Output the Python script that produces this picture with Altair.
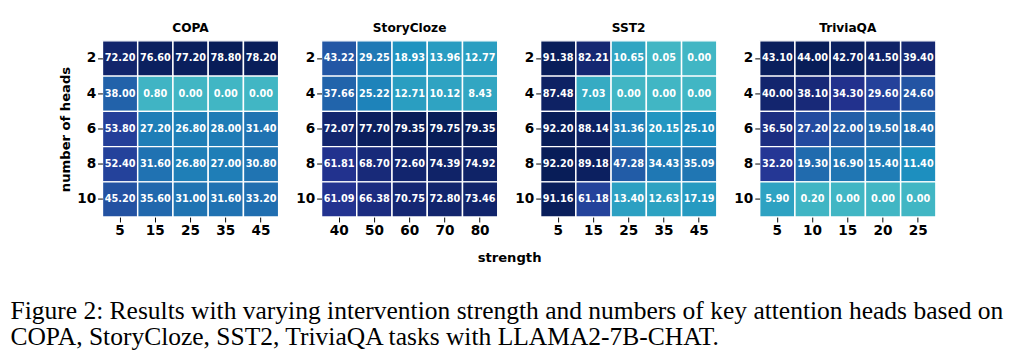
import altair as alt
import pandas as pd

heads = [2, 4, 6, 8, 10]

copa_strength = [5, 15, 25, 35, 45]
copa = [
    [72.20, 76.60, 77.20, 78.80, 78.20],
    [38.00, 0.80, 0.00, 0.00, 0.00],
    [53.80, 27.20, 26.80, 28.00, 31.40],
    [52.40, 31.60, 26.80, 27.00, 30.80],
    [45.20, 35.60, 31.00, 31.60, 33.20],
]

story_strength = [40, 50, 60, 70, 80]
story = [
    [43.22, 29.25, 18.93, 13.96, 12.77],
    [37.66, 25.22, 12.71, 10.12, 8.43],
    [72.07, 77.70, 79.35, 79.75, 79.35],
    [61.81, 68.70, 72.60, 74.39, 74.92],
    [61.09, 66.38, 70.75, 72.80, 73.46],
]

sst2_strength = [5, 15, 25, 35, 45]
sst2 = [
    [91.38, 82.21, 10.65, 0.05, 0.00],
    [87.48, 7.03, 0.00, 0.00, 0.00],
    [92.20, 88.14, 31.36, 20.15, 25.10],
    [92.20, 89.18, 47.28, 34.43, 35.09],
    [91.16, 61.18, 13.40, 12.63, 17.19],
]

trivia_strength = [5, 10, 15, 20, 25]
trivia = [
    [43.10, 44.00, 42.70, 41.50, 39.40],
    [40.00, 38.10, 34.30, 29.60, 24.60],
    [36.50, 27.20, 22.00, 19.50, 18.40],
    [32.20, 19.30, 16.90, 15.40, 11.40],
    [5.90, 0.20, 0.00, 0.00, 0.00],
]

panels = [
    ("COPA", copa_strength, copa),
    ("StoryCloze", story_strength, story),
    ("SST2", sst2_strength, sst2),
    ("TriviaQA", trivia_strength, trivia),
]

cmap = ["#41b6c4", "#1d91c0", "#225ea8", "#253494", "#081d58"]

caption1 = "Figure 2: Results with varying intervention strength and numbers of key attention heads based on"
caption2 = "COPA, StoryCloze, SST2, TriviaQA tasks with LLAMA2-7B-CHAT."

FONT = "DejaVu Sans"


def make_panel(i, name, strengths, values):
    rows = []
    for hi, h in enumerate(heads):
        for si, s in enumerate(strengths):
            rows.append({"heads": h, "strength": s, "value": values[hi][si]})
    df = pd.DataFrame(rows)
    vmax = max(max(r) for r in values)
    base = alt.Chart(df).encode(
        x=alt.X("strength:O", sort=strengths, title=None,
                axis=alt.Axis(labelAngle=0)),
        y=alt.Y("heads:O", sort=heads,
                title="number of heads" if i == 0 else None),
    )
    rect = base.mark_rect(stroke="white", strokeWidth=1.5).encode(
        color=alt.Color("value:Q", legend=None,
                        scale=alt.Scale(domain=[0, vmax], range=cmap,
                                        interpolate="rgb")),
    )
    text = base.mark_text(color="white", font=FONT, fontWeight="bold",
                          fontSize=10).encode(
        text=alt.Text("value:Q", format=".2f"))
    return alt.layer(rect, text).properties(
        width=181, height=181,
        title=alt.TitleParams(name, font=FONT, fontSize=12.5,
                              fontWeight="bold", offset=6),
    ).resolve_scale(color="shared")


charts = [make_panel(i, n, s, v) for i, (n, s, v) in enumerate(panels)]

row = alt.hconcat(*charts, spacing=16).resolve_scale(
    color="independent", x="independent", y="independent"
).properties(
    title=alt.TitleParams("strength", orient="bottom", anchor="middle",
                          font=FONT, fontSize=13.5, fontWeight="bold",
                          offset=14, dx=12)
)

chart = alt.vconcat(row).properties(
    title=alt.TitleParams(
        caption1, subtitle=caption2, orient="bottom", anchor="start",
        frame="bounds", font="Liberation Serif", fontSize=26.2,
        fontWeight="normal", color="black",
        subtitleFont="Liberation Serif", subtitleFontSize=26.2,
        subtitleColor="black", subtitlePadding=1, offset=35, dx=-50),
    padding={"left": 2, "top": 9, "right": 2, "bottom": 5},
).configure_view(stroke=None).configure_axis(
    labelFont=FONT, labelFontWeight="bold", labelFontSize=14,
    labelColor="black", tickColor="black", tickSize=5, tickWidth=1,
    domain=False, labelPadding=2,
    titleFont=FONT, titleFontWeight="bold", titleFontSize=13.5,
    titleColor="black",
).configure_axisY(labelAngle=0)

chart.save("out.html", embed_options={"renderer": "svg", "actions": False})
